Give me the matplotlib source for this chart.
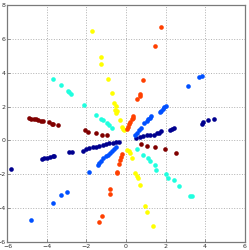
import matplotlib as mpl
import matplotlib.pyplot as plt
import numpy as np

mpl.rcParams.update({
    "font.family": "DejaVu Sans",
    "font.size": 5,
    "axes.linewidth": 0.9,
    "axes.edgecolor": "#7a7a7a",
})

# ----- Data: six classes, each a line through the origin -----
navy_x = [4.47, 4.17, 3.88, 3.83, 2.45, 2.33, 2.23, 1.76, 1.66, 1.55, 1.41, 1.23,
          1.04, 0.88, 0.71, 0.52,
          -5.82, -4.25, -4.14, -4.02, -3.85, -3.72, -3.63, -2.87, -2.75, -2.20,
          -2.03, -1.86, -1.69, -1.52, -1.35, -1.18, -1.01, -0.85, -0.68, -0.51, -0.34]
navy_y = [1.24, 1.18, 1.08, 0.98, 0.71, 0.66, 0.61, 0.56, 0.45, 0.41, 0.35, 0.34,
          0.31, 0.28, 0.18, 0.14,
          -1.69, -1.12, -1.06, -1.02, -0.96, -0.92, -0.90, -0.66, -0.66, -0.61,
          -0.53, -0.47, -0.41, -0.37, -0.31, -0.28, -0.22, -0.18, -0.14, -0.12, -0.08]

blue_x = [3.83, 3.71, 3.15, 2.03, 1.94, 1.86, 1.79, 1.71, 1.27, 1.21, 1.13, 1.04,
          0.91, 0.76, 0.67, 0.56, 0.46,
          -1.89, -1.44, -1.35, -1.25, -1.15, -1.02, -0.92, -0.82, -0.69, -0.59,
          -0.49, -2.99, -3.28, -3.68, -4.81]
blue_y = [3.81, 3.72, 3.22, 2.06, 1.96, 1.85, 1.75, 1.65, 1.43, 1.34, 1.24, 1.14,
          1.04, 0.75, 0.59, 0.45, 0.31,
          -1.84, -1.43, -1.31, -1.19, -1.04, -0.94, -0.85, -0.74, -0.61, -0.48,
          -0.37, -3.02, -3.25, -3.71, -4.72]

cyan_x = [-3.67, -3.31, -2.92, -2.87, -2.78, -2.11, -1.50, -1.24, -1.17, -0.97,
          -0.87, -0.72,
          0.54, 0.88, 1.09, 1.19, 1.46, 1.50, 2.03, 2.14, 2.45, 2.70, 3.22, 3.33]
cyan_y = [3.61, 3.29, 2.94, 2.84, 2.75, 2.12, 1.48, 1.26, 1.18, 1.03, 0.90, 0.71,
          -0.53, -0.89, -1.06, -1.21, -1.45, -1.75, -2.00, -2.19, -2.35, -2.69,
          -3.28, -3.31]

yellow_x = [-1.72, -1.27, -1.24, -0.90, -0.71, -0.59, -0.51, -0.56, -0.47, -0.53,
            -0.30, -0.22, -0.14, -0.09,
            0.05, 0.15, 0.20, 0.28, 0.44, 0.56, 0.61, 0.70, 0.98, 1.06, 1.38]
yellow_y = [6.45, 4.92, 4.53, 3.63, 2.81, 2.22, 2.03, 1.82, 1.74, 1.63, 1.19,
            0.81, 0.68, 0.59,
            -0.56, -0.63, -0.76, -1.02, -1.90, -2.12, -2.21, -2.65, -3.90, -4.24,
            -5.08]

orange_x = [1.77, 1.47, 0.88, 0.70, 0.73, 0.55, 0.37, 0.33, 0.28, 0.22, 0.17,
            0.12, 0.07,
            -0.21, -0.26, -0.31, -0.36, -0.44, -0.48, -0.79, -0.82, -1.20, -1.35]
orange_y = [6.71, 5.55, 3.57, 2.74, 2.64, 2.43, 1.45, 1.34, 1.26, 1.10, 0.97,
            0.82, 0.68,
            -0.79, -0.97, -1.18, -1.41, -1.84, -1.94, -2.88, -3.18, -4.47, -4.82]

maroon_x = [-4.90, -4.79, -4.68, -4.56, -4.43, -4.30, -4.22, -3.88, -3.76, -3.68,
            -3.44, -2.05, -1.94, -1.52, -1.21, -0.95,
            0.76, 1.04, 1.48, 1.97, 2.52]
maroon_y = [1.34, 1.28, 1.25, 1.24, 1.18, 1.14, 1.14, 1.06, 1.00, 0.99, 0.94,
            0.61, 0.50, 0.41, 0.35, 0.31,
            -0.24, -0.31, -0.37, -0.49, -0.74]

classes = [(navy_x, navy_y), (blue_x, blue_y), (cyan_x, cyan_y),
           (yellow_x, yellow_y), (orange_x, orange_y), (maroon_x, maroon_y)]
class_colors = ["#00008f", "#0050ff", "#20ffdf", "#ffff00", "#ff4000", "#800000"]
ticks_x = [-6, -4, -2, 0, 2, 4, 6]
ticks_y = [-6, -4, -2, 0, 2, 4, 6, 8]

fig = plt.figure(figsize=(2.49, 2.50), dpi=100)
ax = fig.add_axes([0.030, 0.032, 0.952, 0.948])

for (xs, ys), c in zip(classes, class_colors):
    ax.scatter(xs, ys, s=11, color=c, linewidths=0, zorder=3)

ax.set_xlim(-6, 6)
ax.set_ylim(-6, 8)
ax.set_xticks(ticks_x)
ax.set_yticks(ticks_y)
ax.grid(True, ls=":", lw=0.7, color="#b0b0b0")
ax.tick_params(direction="in", length=2, width=0.6, color="#7a7a7a",
               pad=1.5, labelsize=4.5, labelcolor="#333333")

fig.savefig("out.png", dpi=100)
